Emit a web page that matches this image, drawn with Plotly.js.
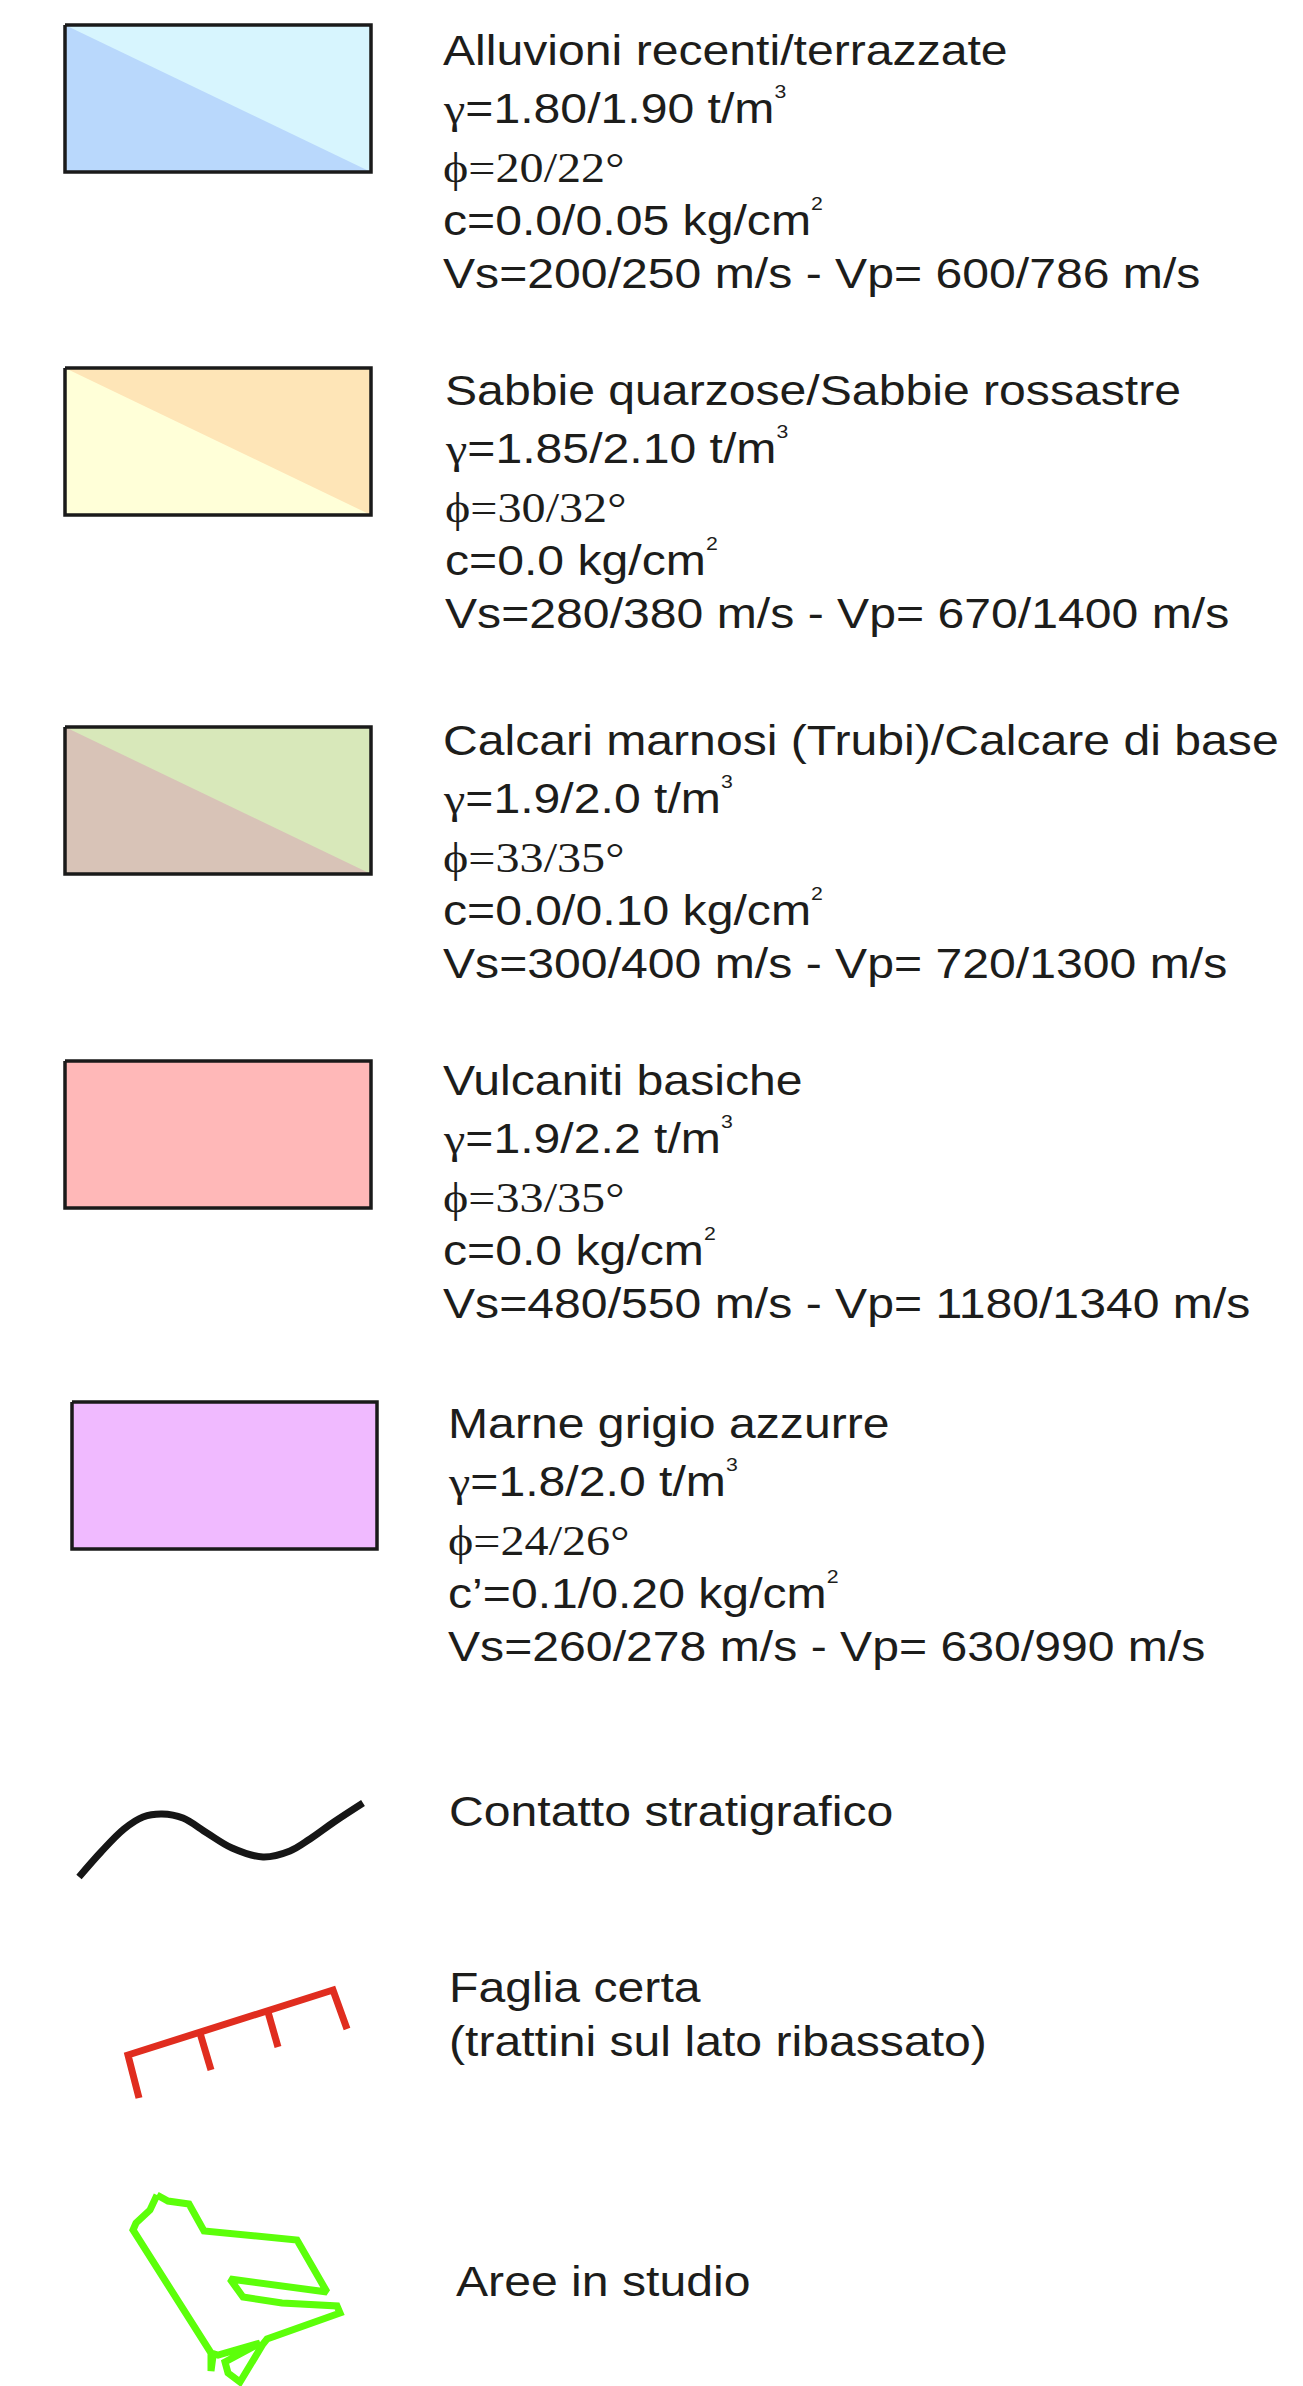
<!DOCTYPE html>
<html>
<head>
<meta charset="utf-8">
<script src="https://cdn.plot.ly/plotly-3.0.1.min.js"></script>
<style>
  html, body { margin: 0; padding: 0; background: #ffffff; }
  #chart { width: 1303px; height: 2386px; }
  /* the original lettering is horizontally stretched */
  .annotation-text { transform: scaleX(1.12); transform-box: fill-box; transform-origin: 0 0; }
</style>
</head>
<body>
<div id="chart"></div>
<script>
// ---------------- DATA ----------------
const unitNames = [
  'Alluvioni recenti/terrazzate',
  'Sabbie quarzose/Sabbie rossastre',
  'Calcari marnosi (Trubi)/Calcare di base',
  'Vulcaniti basiche',
  'Marne grigio azzurre'
];
const unitGamma = ['1.80/1.90', '1.85/2.10', '1.9/2.0', '1.9/2.2', '1.8/2.0'];
const unitPhi = ['20/22', '30/32', '33/35', '33/35', '24/26'];
const unitCohesionSymbol = ['c', 'c', 'c', 'c', 'c\u2019'];
const unitCohesion = ['0.0/0.05', '0.0', '0.0/0.10', '0.0', '0.1/0.20'];
const unitVs = ['200/250', '280/380', '300/400', '480/550', '260/278'];
const unitVp = ['600/786', '670/1400', '720/1300', '1180/1340', '630/990'];
const unitColorLower = ['#b9d8fc', '#ffffd8', '#d8c3b7', '#ffb8b8', '#f0baff'];
const unitColorUpper = ['#d7f5fe', '#fee5b7', '#d8e8ba', '#ffb8b8', '#f0baff'];

const symbolLabels = ['Contatto stratigrafico', 'Faglia certa', '(trattini sul lato ribassato)', 'Aree in studio'];

// symbol geometry (legend pictograms)
const contactX = [79, 101, 124, 143, 162, 183, 207, 232, 263, 290, 310, 334, 363];
const contactY = [1877, 1852, 1829, 1817, 1814, 1818, 1833, 1848, 1857, 1851, 1839, 1822, 1803];
const faultX = [139, 128, 333, 347];
const faultY = [2098, 2055, 1990, 2029];
const faultTicksX = [[200, 211], [268, 278]];
const faultTicksY = [[2033, 2070], [2012, 2047]];
const areaX = [157, 168, 189, 204, 297, 327, 230, 243, 282, 337, 340, 267, 263, 240, 228, 225, 260, 218, 211, 211, 213, 137, 133, 136, 150, 157];
const areaY = [2195, 2201, 2204, 2231, 2240, 2292, 2279, 2297, 2303, 2306, 2313, 2339, 2344, 2382, 2373, 2362, 2343, 2355, 2353, 2371, 2356, 2238, 2230, 2223, 2210, 2195];

// ---------------- LAYOUT CONSTANTS ----------------
const W = 1303, H = 2386;
const boxLeft = [65, 65, 65, 65, 72];
const boxRight = [371, 371, 371, 371, 377];
const boxTop = [25, 368, 727, 1061, 1402];
const boxHeight = 147;
const textLeft = [443, 445, 443, 443, 448];
const firstBaseline = [65, 405, 755, 1095, 1438];
const lineOffsets = [0, 58, 117, 170, 223];
const symbolTextLeft = [449, 449, 449, 456];
const symbolBaselines = [1826, 2002, 2056, 2296];

const SANS = "'Liberation Sans', Arial, Helvetica, sans-serif";
const SERIF = "'Liberation Serif', 'Times New Roman', serif";
const SANS_SIZE = 43, SERIF_SIZE = 43;
const INK = '#1d1d1b';

// ---------------- BUILD ----------------
const traces = [];
const annotations = [];

function addText(x, baseline, text, family, size) {
  annotations.push({
    xref: 'x', yref: 'y', x: x, y: baseline + 0.212 * size,
    xanchor: 'left', yanchor: 'bottom', align: 'left',
    showarrow: false, borderpad: 0, borderwidth: 0,
    text: text, font: {family: family, size: size, color: INK}
  });
}

function sup(s) {
  return '<span style="font-size:19px;baseline-shift:25px">' + s + '</span>';
}

unitNames.forEach(function (name, i) {
  const x0 = boxLeft[i], x1 = boxRight[i], y0 = boxTop[i], y1 = boxTop[i] + boxHeight;
  // whole box in the lower colour
  traces.push({x: [x0, x1, x1, x0, x0], y: [y0, y0, y1, y1, y0], mode: 'lines', fill: 'toself',
    fillcolor: unitColorLower[i], line: {width: 0, color: unitColorLower[i]}, hoverinfo: 'skip'});
  // upper-right triangle, only for two-tone units
  if (unitColorUpper[i] !== unitColorLower[i]) {
    traces.push({x: [x0, x1, x1, x0], y: [y0, y0, y1, y0], mode: 'lines', fill: 'toself',
      fillcolor: unitColorUpper[i], line: {width: 0, color: unitColorUpper[i]}, hoverinfo: 'skip'});
  }
  // frame
  traces.push({x: [x0, x1, x1, x0, x0], y: [y0, y0, y1, y1, y0], mode: 'lines',
    line: {width: 3.5, color: '#1a1a1a'}, hoverinfo: 'skip'});

  const b = firstBaseline[i], tx = textLeft[i];
  addText(tx, b + lineOffsets[0], name, SANS, SANS_SIZE);
  addText(tx, b + lineOffsets[1],
    '<span style="font-family:\'Liberation Serif\', serif">\u03b3</span>=' + unitGamma[i] + ' t/m' + sup('3'),
    SANS, SANS_SIZE);
  addText(tx, b + lineOffsets[2], '\u03d5=' + unitPhi[i] + '\u00b0', SERIF, SERIF_SIZE);
  addText(tx, b + lineOffsets[3], unitCohesionSymbol[i] + '=' + unitCohesion[i] + ' kg/cm' + sup('2'),
    SANS, SANS_SIZE);
  addText(tx, b + lineOffsets[4], 'Vs=' + unitVs[i] + ' m/s - Vp= ' + unitVp[i] + ' m/s', SANS, SANS_SIZE);
});

// stratigraphic contact
traces.push({x: contactX, y: contactY, mode: 'lines', line: {width: 7, color: '#161616', shape: 'spline', smoothing: 1}, hoverinfo: 'skip'});
// fault
traces.push({x: faultX, y: faultY, mode: 'lines', line: {width: 7, color: '#e02d1f'}, hoverinfo: 'skip'});
faultTicksX.forEach(function (tx, k) {
  traces.push({x: tx, y: faultTicksY[k], mode: 'lines', line: {width: 7, color: '#e02d1f'}, hoverinfo: 'skip'});
});
// study area
traces.push({x: areaX, y: areaY, mode: 'lines', line: {width: 7, color: '#5cff0a'}, hoverinfo: 'skip'});

symbolLabels.forEach(function (lab, k) {
  addText(symbolTextLeft[k], symbolBaselines[k], lab, SANS, SANS_SIZE);
});

const layout = {
  width: W, height: H,
  margin: {l: 0, r: 0, t: 0, b: 0, pad: 0},
  paper_bgcolor: '#ffffff', plot_bgcolor: '#ffffff',
  showlegend: false, hovermode: false,
  xaxis: {range: [0, W], visible: false, fixedrange: true},
  yaxis: {range: [H, 0], visible: false, fixedrange: true},
  annotations: annotations
};

Plotly.newPlot('chart', traces, layout, {displayModeBar: false, staticPlot: true});
</script>
</body>
</html>
